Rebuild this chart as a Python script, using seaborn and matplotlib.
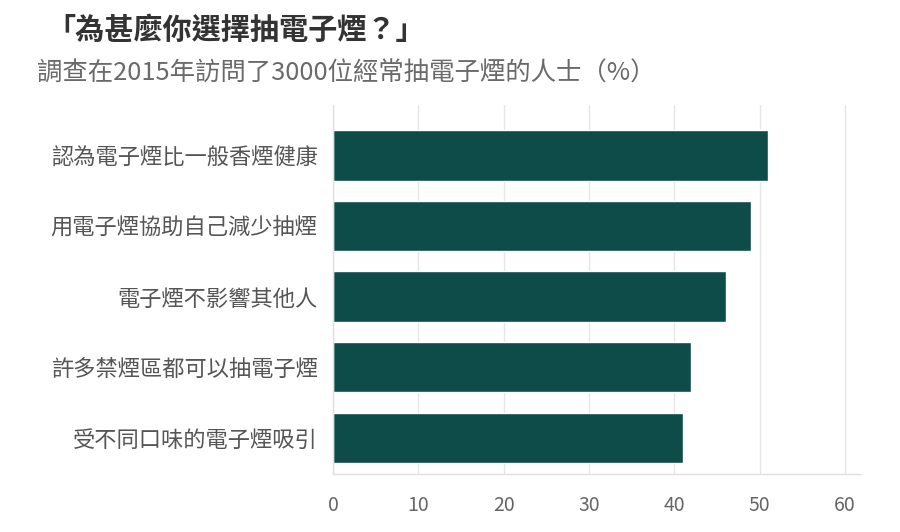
import pandas as pd
import matplotlib.pyplot as plt
import seaborn as sns

# survey answers (percent of respondents)
reasons = [
    "認為電子煙比一般香煙健康",
    "用電子煙協助自己減少抽煙",
    "電子煙不影響其他人",
    "許多禁煙區都可以抽電子煙",
    "受不同口味的電子煙吸引",
]
percent = [51, 49, 46, 42, 41]
x_ticks = [0, 10, 20, 30, 40, 50, 60]

title = "「為甚麼你選擇抽電子煙？」"
subtitle = "調查在2015年訪問了3000位經常抽電子煙的人士（%）"

sns.set_theme(style="white")
plt.rcParams["font.family"] = ["Noto Sans CJK TC", "DejaVu Sans"]

df = pd.DataFrame({"reason": reasons, "percent": percent})

fig = plt.figure(figsize=(9, 5.32), dpi=100)
ax = fig.add_axes([0.37, 0.109, 0.586, 0.694])

sns.barplot(data=df, x="percent", y="reason", orient="h", color="#0e4c49",
            saturation=1, width=0.714, ax=ax)

ax.set_xlim(0, 61.8)
ax.set_ylim(4.515, -0.72)
ax.set_xticks(x_ticks)
ax.set_xlabel("")
ax.set_ylabel("")
ax.xaxis.grid(True, color="#e6e6e6", linewidth=1)
ax.set_axisbelow(True)

for side in ["top", "right"]:
    ax.spines[side].set_visible(False)
for side in ["left", "bottom"]:
    ax.spines[side].set_color("#e0e0e0")
    ax.spines[side].set_linewidth(1)

ax.tick_params(axis="x", colors="#666666", labelsize=14, length=6, width=1,
               direction="out", pad=9)
ax.tick_params(axis="x", color="#e6e6e6")
ax.tick_params(axis="y", colors="#555555", labelsize=16, length=0, pad=11)

fig.text(0.052, 0.944, title, fontsize=21, fontweight="bold", color="#333333",
         va="center", ha="left")
fig.text(0.041, 0.862, subtitle, fontsize=18.3, color="#6a6a6a",
         va="center", ha="left")

fig.savefig("out.png", dpi=100)
